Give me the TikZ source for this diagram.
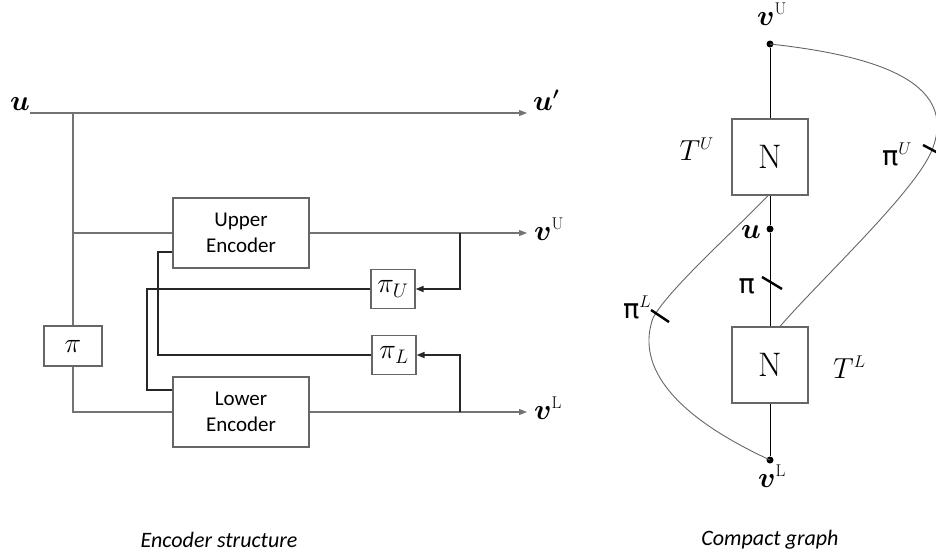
\RequirePackage{fix-cm}
\documentclass[tikz,border=0pt]{standalone}
\usepackage{amsmath,bm}
\usepackage{fontspec}
\newfontfamily\carlito{Carlito}
\newfontfamily\dejavu{DejaVu Sans}
\usetikzlibrary{arrows.meta,calc}
\DeclareMathSizes{29}{29}{17}{14}

\newcommand{\gpi}{{\dejavu\fontsize{27}{28}\selectfont π}}

\tikzset{
  wire/.style={draw=black!55, line width=1.2pt},
  fbwire/.style={draw=black!85, line width=1.6pt},
  tip/.style={-{Triangle[length=8pt,width=6pt]}},
  encbox/.style={draw=black!60, line width=1.2pt, minimum width=136pt, minimum height=70pt,
    align=center, font=\carlito\fontsize{21}{26}\selectfont},
  permbox/.style={draw=black!60, line width=1.2pt, minimum width=44pt, minimum height=39pt,
    inner sep=0pt, font=\fontsize{28}{30}\selectfont},
  nbox/.style={draw=black!60, line width=1.2pt, minimum size=76pt, inner sep=0pt,
    font=\fontsize{34}{36}\selectfont},
  lab/.style={font=\fontsize{29}{32}\selectfont, inner sep=0pt},
  dot/.style={circle, fill=black, inner sep=0pt, minimum size=7pt},
  gcurve/.style={draw=black!60, line width=0.9pt},
  tickmark/.style={line width=2.4pt},
  caption/.style={font=\carlito\itshape\fontsize{22}{24}\selectfont}
}

\begin{document}
\begin{tikzpicture}[x=1pt,y=-1pt]
\useasboundingbox (0,0) rectangle (936,557);

% encoder structure
\coordinate (uin) at (30,113);
\coordinate (uout) at (527,113);
\coordinate (split) at (73,113);
\node[lab, anchor=base east] (u) at (30,110) {$\bm{u}$};
\node[lab, anchor=base west] (uprime) at (533,110) {$\bm{u'}$};
\draw[wire,tip] (uin) -- (uout);

\node[encbox] (upper) at (241,233) {Upper\\Encoder};
\node[encbox] (lower) at (241,412) {Lower\\Encoder};
\node[permbox, minimum width=58pt, minimum height=40pt] (pi) at (73,346) {$\pi$};
\node[permbox] (piU) at (393,289) {$\pi_U$};
\node[permbox] (piL) at (394,355) {$\pi_L$};

\draw[wire] (split) -- (pi.north);
\draw[wire] (split |- upper.west) -- (upper.west);
\draw[wire] (pi.south) |- (lower.west);

\coordinate (vUout) at (527,233);
\coordinate (vLout) at (527,412);
\coordinate (jU) at (460,233);
\coordinate (jL) at (460,412);
\draw[wire,tip] (upper.east) -- (vUout);
\draw[wire,tip] (lower.east) -- (vLout);
\node[lab, anchor=base west] (vU) at (534,240) {$\bm{v}^{\mathrm{U}}$};
\node[lab, anchor=base west] (vL) at (534,419) {$\bm{v}^{\mathrm{L}}$};

\draw[fbwire,tip] (jU) |- (piU.east);
\draw[fbwire,tip] (jL) |- (piL.east);
\draw[fbwire] (piU.west) -| (147,390) -- ([yshift=22pt]lower.west);
\draw[fbwire] (piL.west) -| (158,252) -- ([yshift=-19pt]upper.west);

\node[caption] (cap1) at (219,540) {Encoder structure};

% compact graph
\node[dot] (gvU) at (770,44) {};
\node[nbox] (NU) at (770,157) {N};
\node[dot] (gu) at (770,229) {};
\node[nbox] (NL) at (770,365) {N};
\node[dot] (gvL) at (770,460) {};
\draw[line width=1pt] (gvU) -- (NU) -- (gu) -- (NL) -- (gvL);

\node[lab, anchor=base] (gvUl) at (772,25) {$\bm{v}^{\mathrm{U}}$};
\node[lab, anchor=base east] (gul) at (761,238) {$\bm{u}$};
\node[lab, anchor=base] (gvLl) at (772,487) {$\bm{v}^{\mathrm{L}}$};
\node[lab, anchor=base east] (TU) at (714,160) {$T^{U}$};
\node[lab, anchor=base west] (TL) at (833,378) {$T^{L}$};

\draw[gcurve] (gvU.center) .. controls (870,55) and (960,80) .. (932,150)
  .. controls (915,192) and (820,280) .. ([xshift=10pt]NL.north);
\draw[gcurve] ([xshift=-2pt]NU.south) .. controls (730,235) and (668,290) .. (653,318)
  .. controls (638,360) and (662,410) .. (gvL.center);

\node[lab, anchor=base east] (pil) at (755,293) {\gpi};
\node[lab, anchor=base west] (piLl) at (623,318) {\gpi$^{L}$};
\node[lab, anchor=base west] (piUl) at (882,165) {\gpi$^{U}$};
\draw[tickmark] (762,277) -- (782,289);
\draw[tickmark] (651,310) -- (669,322);
\draw[tickmark] (923,145) -- (940,154);

\node[caption] (cap2) at (770,540) {Compact graph};

\end{tikzpicture}
\end{document}
